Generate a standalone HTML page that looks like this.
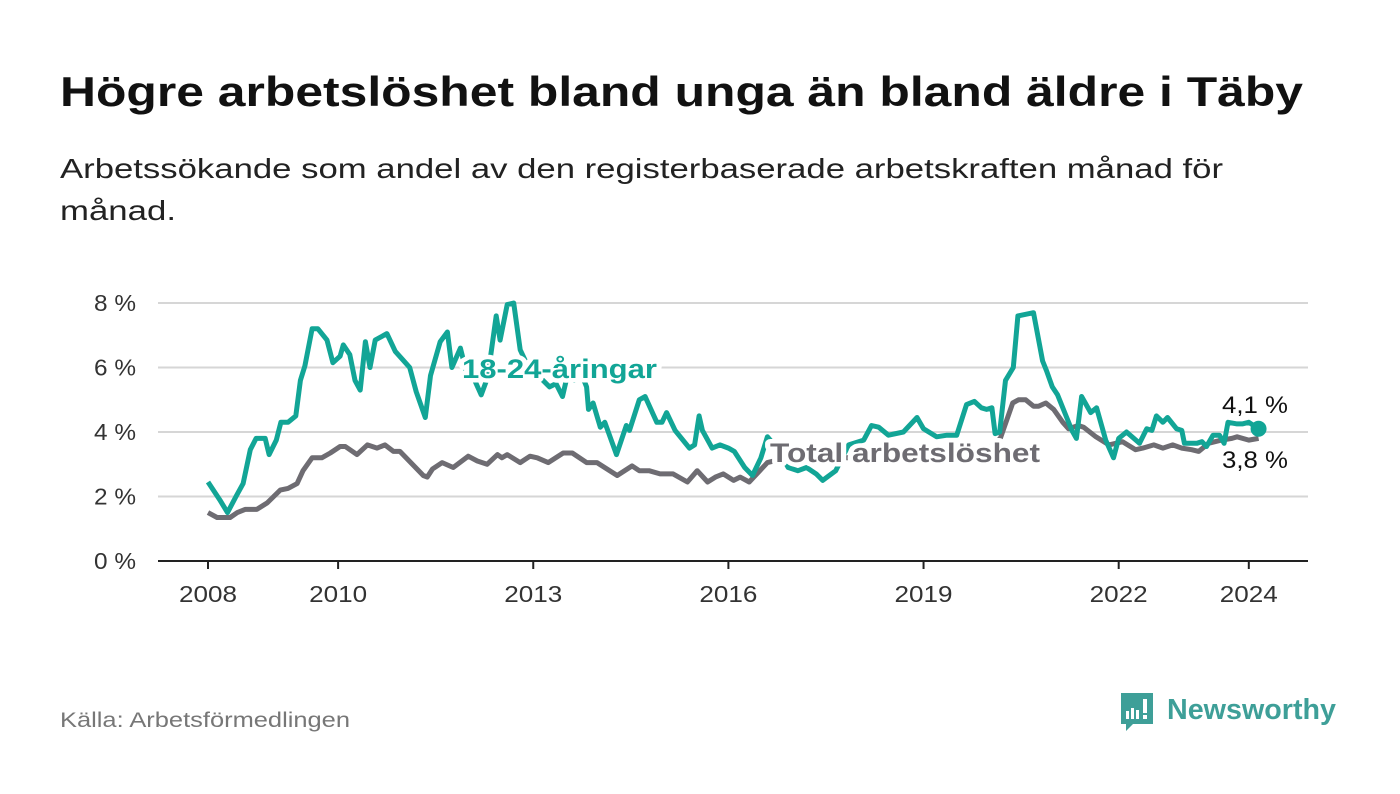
<!DOCTYPE html>
<html><head><meta charset="utf-8"><style>
html,body{margin:0;padding:0;background:#fff;}
svg{display:block;font-family:"Liberation Sans",sans-serif;}
</style></head><body>
<svg id="chart" width="1400" height="794" viewBox="0 0 1400 794">
<text x="60" y="106" font-size="42" font-weight="bold" fill="#111" textLength="1243" lengthAdjust="spacingAndGlyphs">Högre arbetslöshet bland unga än bland äldre i Täby</text>
<text x="60" y="178" font-size="28" fill="#222" textLength="1163" lengthAdjust="spacingAndGlyphs">Arbetssökande som andel av den registerbaserade arbetskraften månad för</text>
<text x="60" y="220" font-size="28" fill="#222" textLength="116" lengthAdjust="spacingAndGlyphs">månad.</text>
<g id="grid"></g>
<g id="yticks"></g>
<g id="xticks"></g>
<g id="lines"></g>
<g id="labels"></g>
<text x="60" y="727" font-size="21" fill="#777" textLength="290" lengthAdjust="spacingAndGlyphs">Källa: Arbetsförmedlingen</text>
<g>
<path d="M1121 693 h32 v31 h-20 l-7 7 v-7 h-5 z" fill="#3e9f98"/>
<rect x="1126" y="711" width="3" height="8" fill="#fff"/><rect x="1131" y="708" width="3" height="11" fill="#fff"/><rect x="1136" y="710" width="3" height="9" fill="#fff"/><rect x="1143" y="699" width="4" height="14" fill="#fff"/><rect x="1143" y="715" width="4" height="4" fill="#fff"/>
<text x="1167" y="719" font-size="29" font-weight="bold" fill="#3e9f98" textLength="169" lengthAdjust="spacingAndGlyphs">Newsworthy</text>
</g>
</svg>
<script>
const yTickValues=[0,2,4,6,8];
const yTickLabels=["0 %","2 %","4 %","6 %","8 %"];
const xTickYears=[2008,2010,2013,2016,2019,2022,2024];
const youthT=[2008.0,2008.18,2008.3,2008.43,2008.54,2008.65,2008.74,2008.88,2008.94,2009.05,2009.12,2009.23,2009.35,2009.42,2009.49,2009.6,2009.69,2009.83,2009.92,2010.03,2010.08,2010.18,2010.26,2010.34,2010.42,2010.49,2010.57,2010.75,2010.88,2010.99,2011.1,2011.2,2011.34,2011.42,2011.57,2011.68,2011.75,2011.88,2011.98,2012.1,2012.2,2012.3,2012.43,2012.49,2012.6,2012.7,2012.8,2012.95,2013.1,2013.25,2013.35,2013.45,2013.53,2013.63,2013.72,2013.82,2013.85,2013.92,2014.03,2014.1,2014.28,2014.43,2014.48,2014.63,2014.72,2014.9,2014.98,2015.05,2015.18,2015.4,2015.48,2015.55,2015.6,2015.75,2015.87,2016.0,2016.09,2016.25,2016.37,2016.5,2016.6,2016.77,2016.92,2017.07,2017.2,2017.35,2017.45,2017.65,2017.85,2018.08,2018.2,2018.31,2018.46,2018.69,2018.9,2019.0,2019.2,2019.36,2019.51,2019.66,2019.78,2019.89,2019.97,2020.05,2020.1,2020.17,2020.26,2020.38,2020.45,2020.69,2020.83,2020.89,2020.98,2021.06,2021.2,2021.28,2021.35,2021.43,2021.57,2021.66,2021.8,2021.92,2022.0,2022.12,2022.32,2022.43,2022.51,2022.58,2022.68,2022.75,2022.89,2022.97,2023.01,2023.2,2023.28,2023.35,2023.45,2023.55,2023.62,2023.68,2023.82,2023.9,2024.0,2024.15];
const youthV=[2.45,1.9,1.5,2.0,2.4,3.45,3.8,3.8,3.3,3.75,4.3,4.3,4.5,5.6,6.05,7.2,7.2,6.85,6.15,6.35,6.7,6.4,5.6,5.3,6.8,6.0,6.85,7.05,6.5,6.25,6.0,5.25,4.45,5.75,6.8,7.1,6.0,6.6,5.8,5.6,5.15,5.7,7.6,6.85,7.95,8.0,6.55,5.9,5.7,5.4,5.5,5.1,5.8,5.6,5.9,5.4,4.7,4.9,4.15,4.3,3.3,4.2,4.05,5.0,5.1,4.3,4.3,4.6,4.05,3.5,3.6,4.5,4.05,3.5,3.6,3.5,3.4,2.9,2.65,3.2,3.85,3.45,2.9,2.8,2.9,2.7,2.5,2.8,3.6,3.75,4.2,4.15,3.9,4.0,4.45,4.1,3.85,3.9,3.9,4.85,4.95,4.75,4.7,4.75,3.95,4.0,5.6,6.0,7.6,7.7,6.2,5.9,5.4,5.15,4.45,4.05,3.8,5.1,4.6,4.75,3.75,3.2,3.8,4.0,3.65,4.1,4.05,4.5,4.3,4.45,4.1,4.05,3.65,3.65,3.7,3.55,3.9,3.9,3.65,4.3,4.25,4.25,4.3,4.1];
const totalT=[2008.0,2008.14,2008.34,2008.45,2008.57,2008.75,2008.91,2009.11,2009.23,2009.37,2009.46,2009.6,2009.75,2009.88,2010.03,2010.11,2010.29,2010.45,2010.6,2010.72,2010.85,2010.95,2011.31,2011.37,2011.45,2011.6,2011.77,2012.0,2012.14,2012.29,2012.45,2012.52,2012.6,2012.8,2012.95,2013.06,2013.23,2013.46,2013.6,2013.82,2013.98,2014.29,2014.52,2014.63,2014.78,2014.95,2015.15,2015.37,2015.52,2015.68,2015.8,2015.92,2016.08,2016.18,2016.32,2016.6,2016.9,2017.3,2017.8,2018.3,2018.8,2019.2,2019.6,2020.0,2020.18,2020.37,2020.46,2020.57,2020.69,2020.77,2020.88,2021.0,2021.14,2021.23,2021.38,2021.46,2021.65,2021.85,2022.06,2022.26,2022.37,2022.54,2022.68,2022.83,2022.97,2023.12,2023.23,2023.38,2023.58,2023.74,2023.82,2024.0,2024.15];
const totalV=[1.5,1.35,1.35,1.5,1.6,1.6,1.8,2.2,2.25,2.4,2.8,3.2,3.2,3.35,3.55,3.55,3.3,3.6,3.5,3.6,3.4,3.4,2.65,2.6,2.85,3.05,2.9,3.25,3.1,3.0,3.3,3.2,3.3,3.05,3.25,3.2,3.05,3.35,3.35,3.05,3.05,2.65,2.95,2.8,2.8,2.7,2.7,2.45,2.8,2.45,2.6,2.7,2.5,2.6,2.45,3.05,3.2,3.1,3.2,3.2,3.25,3.3,3.4,3.5,3.8,4.9,5.0,5.0,4.8,4.8,4.9,4.7,4.3,4.1,4.2,4.15,3.85,3.6,3.7,3.45,3.5,3.6,3.5,3.6,3.5,3.45,3.4,3.65,3.75,3.8,3.85,3.75,3.8];
const NS="http://www.w3.org/2000/svg";
const X0=158,X1=1308,Y0=561,PXY=(561-303)/8;
function xs(t){return 208+(t-2008)*65.05;}
function ys(v){return Y0-v*PXY;}
function mk(tag,attrs,parent){const e=document.createElementNS(NS,tag);for(const k in attrs)e.setAttribute(k,attrs[k]);parent.appendChild(e);return e;}
const grid=document.getElementById('grid'),yt=document.getElementById('yticks'),xt=document.getElementById('xticks'),lines=document.getElementById('lines'),labels=document.getElementById('labels');
yTickValues.forEach((v,i)=>{
 const g=mk('line',{x1:X0,x2:X1,y1:ys(v),y2:ys(v),stroke:v===0?'#222':'#d6d6d6','stroke-width':2},grid);
 
 
 const t=mk('text',{x:136,y:ys(v)+8,'text-anchor':'end','font-size':23,fill:'#333',textLength:42,lengthAdjust:'spacingAndGlyphs'},yt);
 t.textContent=yTickLabels[i];
 
 
});
xTickYears.forEach(y=>{
 const l=mk('line',{x1:xs(y),x2:xs(y),y1:Y0,y2:Y0+8,stroke:'#222','stroke-width':2},xt);
 
 
 const t=mk('text',{x:xs(y),y:Y0+41,'text-anchor':'middle','font-size':23,fill:'#333',textLength:58,lengthAdjust:'spacingAndGlyphs'},xt);
 t.textContent=String(y);
 
 
});
function pathD(T,V){return T.map((t,i)=>(i?'L':'M')+xs(t).toFixed(1)+' '+ys(V[i]).toFixed(1)).join(' ');}
const pt=mk('path',{d:pathD(totalT,totalV),fill:'none',stroke:'#6e6c72','stroke-width':5,'stroke-linejoin':'round'},lines);


const py=mk('path',{d:pathD(youthT,youthV),fill:'none',stroke:'#12a596','stroke-width':5,'stroke-linejoin':'round'},lines);


const lastT=youthT[youthT.length-1];
const dot=mk('circle',{cx:xs(lastT),cy:ys(youthV[youthV.length-1]),r:8,fill:'#12a596'},lines);


function lab(txt,x,y,opts,name){const t=mk('text',Object.assign({x:x,y:y,lengthAdjust:'spacingAndGlyphs'},opts),labels);t.textContent=txt;return t;}
const halo={stroke:'#fff','stroke-width':9,'paint-order':'stroke','stroke-linejoin':'round'};
lab('18-24-åringar',462,378,Object.assign({'font-size':27,'font-weight':'bold',fill:'#12a596',textLength:195},halo),'series-label-youth');
lab('Total arbetslöshet',770,462,Object.assign({'font-size':27,'font-weight':'bold',fill:'#6e6c72',textLength:270},halo),'series-label-total');
lab('4,1 %',1222,413,Object.assign({'font-size':24,fill:'#111',textLength:66},halo),'youth-end-value');
lab('3,8 %',1222,468,Object.assign({'font-size':24,fill:'#111',textLength:66},halo),'total-end-value');
</script>
</body></html>
